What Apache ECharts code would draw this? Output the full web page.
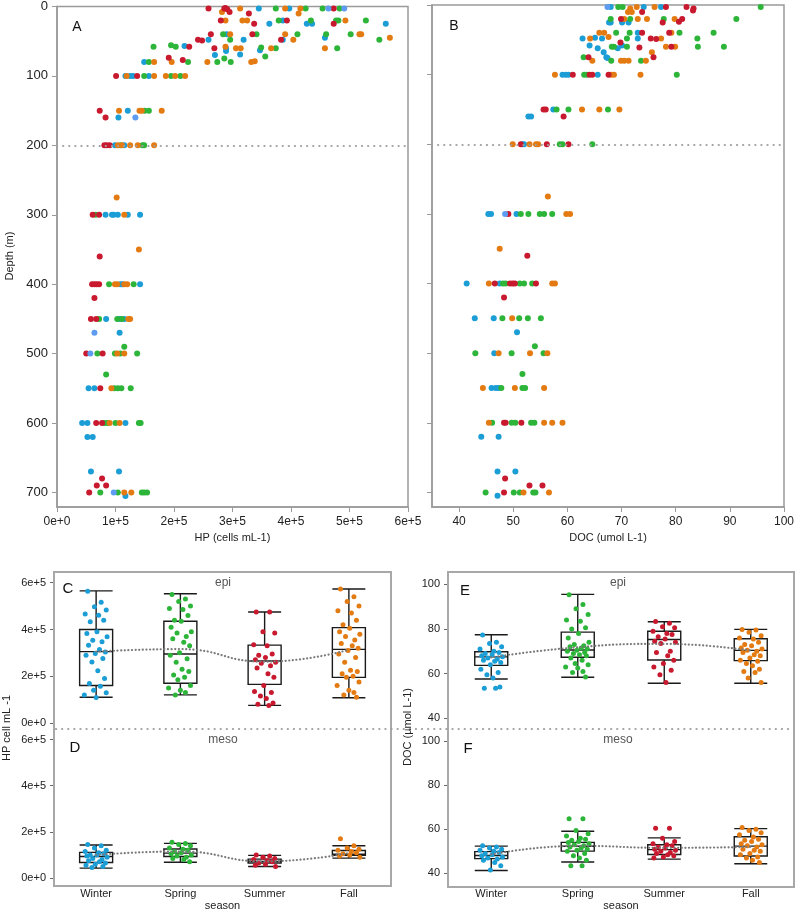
<!DOCTYPE html>
<html><head><meta charset="utf-8">
<script src="https://cdn.jsdelivr.net/npm/echarts@6/dist/echarts.min.js"></script>
<style>html,body{margin:0;padding:0;background:#fff}#c{width:797px;height:912px}</style>
</head><body><div id="c"></div>
<script>
// ---------- DATA ----------
const SEASONS = ['Winter','Spring','Summer','Fall'];
// Panel A: HP (x 1e5 cells mL-1), depth (m)
const HP_WINTER = [[3.45,3],[3.97,3],[3.86,20],[3.63,25],[4.27,25],[4.36,25],[5.62,25],[2.90,40],[4.58,45],[2.59,48],[3.19,48],[3.86,48],[2.18,57],[2.89,60],[2.89,64],[3.47,63],[2.70,70],[3.13,69],[1.49,80],[1.17,100],[1.25,100],[1.30,100],[1.57,100],[1.21,150],[1.05,160],[0.99,200],[1.15,200],[0.83,300],[0.94,300],[0.97,300],[1.04,300],[1.21,300],[1.42,300],[1.08,400],[1.12,400],[1.42,400],[0.84,450],[1.07,450],[1.15,450],[1.07,470],[0.54,550],[0.64,550],[0.43,600],[0.52,600],[1.17,600],[0.52,620],[0.61,620],[0.58,670],[1.06,670],[1.17,705]];
const HP_LIGHT = [[4.64,3],[4.91,3],[1.34,160],[0.64,470],[0.57,500],[0.97,700]];
const HP_SPRING = [[3.74,3],[4.25,3],[4.54,3],[4.83,3],[3.79,20],[4.34,20],[4.77,20],[4.81,20],[5.28,20],[2.84,40],[3.41,40],[4.11,40],[4.60,40],[5.02,40],[2.96,48],[5.51,48],[1.65,58],[1.95,56],[2.03,58],[3.49,59],[3.74,60],[4.79,60],[2.86,75],[3.56,72],[1.57,80],[2.24,80],[2.74,80],[2.97,80],[1.49,100],[1.95,100],[2.11,100],[1.50,150],[1.57,150],[1.09,200],[1.46,200],[1.49,200],[0.66,300],[0.89,400],[1.31,400],[0.72,450],[1.03,450],[1.11,450],[1.15,490],[0.69,500],[0.99,500],[1.08,500],[1.37,500],[0.84,530],[0.98,550],[1.04,550],[1.10,550],[1.26,550],[0.81,600],[0.86,600],[1.00,600],[1.40,600],[1.43,600],[0.74,700],[1.04,700],[1.45,700],[1.49,700],[1.54,700]];
const HP_SUMMER = [[2.59,3],[2.86,3],[2.88,2],[2.91,4],[4.73,3],[2.95,8],[3.28,10],[2.80,20],[3.93,20],[3.37,25],[4.73,25],[2.63,40],[3.34,40],[2.41,48],[2.48,49],[3.83,48],[2.26,58],[2.69,60],[1.91,74],[2.15,77],[1.01,100],[1.37,100],[0.73,150],[0.83,160],[0.81,200],[0.85,200],[0.90,200],[0.61,300],[0.72,300],[0.73,360],[0.60,400],[0.64,400],[0.68,400],[0.72,400],[0.64,420],[0.58,450],[0.67,450],[0.50,500],[0.78,500],[0.74,550],[0.67,600],[0.77,600],[0.77,680],[0.68,690],[0.84,690],[0.55,700]];
const HP_FALL = [[3.13,3],[3.90,3],[4.16,3],[2.82,8],[4.13,10],[2.88,20],[3.17,20],[3.25,20],[4.93,20],[2.96,40],[3.90,40],[5.17,40],[5.20,40],[5.69,45],[4.04,48],[2.88,58],[3.06,60],[3.14,60],[3.66,60],[4.58,60],[3.38,79],[1.66,80],[1.96,80],[2.57,80],[3.32,80],[1.19,100],[1.66,100],[1.86,100],[2.02,100],[2.19,100],[1.06,150],[1.41,150],[1.45,150],[1.79,150],[1.04,200],[1.11,200],[1.25,200],[1.38,200],[1.66,200],[1.02,275],[1.15,300],[1.40,350],[0.99,400],[1.03,400],[1.15,400],[1.20,400],[1.22,450],[1.25,450],[1.03,500],[1.15,500],[0.93,550],[0.90,600],[1.07,600],[1.15,700],[1.27,700]];
// Panel B: DOC (umol L-1), depth (m)
const DOC_WINTER = [[68.0,3],[74.1,3],[77.3,3],[67.7,25],[68.0,25],[70.1,25],[71.3,25],[73.0,40],[62.8,48],[65.1,47],[66.4,48],[73.0,48],[64.1,58],[65.6,62],[69.3,62],[70.1,58],[66.7,68],[67.2,75],[67.4,76],[59.1,100],[59.7,100],[60.2,100],[65.6,100],[57.4,150],[52.8,160],[53.3,160],[51.7,200],[52.0,200],[45.4,300],[45.9,300],[50.6,300],[41.4,400],[47.5,400],[42.9,450],[46.4,450],[50.7,470],[46.5,500],[46.0,550],[46.8,550],[47.3,550],[44.1,620],[47.3,620],[47.1,670],[50.4,670],[47.1,705]];
const DOC_LIGHT = [[67.4,3],[48.5,300]];
const DOC_SPRING = [[69.4,3],[70.2,3],[95.7,3],[68.0,20],[71.6,20],[77.8,20],[91.2,20],[69.0,40],[71.5,40],[80.7,40],[87.0,40],[71.0,48],[84.0,48],[68.2,60],[68.6,60],[71.0,60],[84.1,60],[88.9,60],[63.0,75],[68.1,80],[73.6,80],[63.1,100],[63.6,100],[80.2,100],[58.0,150],[60.2,150],[67.5,150],[58.6,200],[59.1,200],[64.6,200],[51.4,300],[52.8,300],[54.9,300],[55.7,300],[57.2,300],[48.1,400],[48.6,400],[51.2,400],[52.0,400],[53.5,400],[48.0,450],[51.1,450],[52.7,450],[55.1,450],[54.0,490],[43.0,500],[49.7,500],[55.6,500],[51.7,530],[47.8,550],[51.7,550],[52.2,550],[46.1,600],[49.7,600],[50.4,600],[53.3,600],[53.9,600],[44.9,700],[50.1,700],[51.2,700],[53.7,700],[54.1,700]];
const DOC_SUMMER = [[78.2,3],[82.0,3],[83.3,5],[73.8,10],[83.2,8],[69.9,20],[81.2,20],[77.6,25],[80.6,24],[73.8,40],[78.8,40],[75.4,48],[76.4,49],[69.8,54],[73.3,61],[79.2,60],[63.9,75],[75.9,75],[61.0,100],[64.1,100],[64.6,100],[67.6,100],[55.6,150],[56.0,150],[59.3,160],[51.4,200],[56.2,200],[60.2,200],[49.1,300],[52.6,360],[46.6,400],[49.4,400],[49.9,400],[50.3,400],[54.2,400],[48.3,420],[48.3,600],[48.6,600],[51.5,600],[48.5,680],[53.0,690],[55.4,690],[48.3,700]];
const DOC_FALL = [[71.6,5],[72.8,3],[76.1,3],[71.2,10],[71.9,10],[70.5,20],[73.0,20],[74.7,20],[79.8,20],[65.9,40],[66.8,40],[79.2,40],[64.2,48],[67.6,46],[77.3,48],[78.2,60],[79.9,60],[75.6,68],[64.6,80],[69.9,80],[70.5,80],[71.3,80],[74.5,80],[57.7,100],[68.1,100],[68.6,100],[73.5,100],[62.7,150],[65.9,150],[69.6,150],[49.9,200],[53.0,200],[54.2,200],[54.6,200],[56.4,275],[59.8,300],[60.5,300],[47.5,350],[45.5,400],[57.2,400],[57.7,400],[49.8,450],[47.3,500],[53.1,500],[56.3,500],[44.4,550],[50.3,550],[55.7,550],[45.5,600],[55.7,600],[57.2,600],[59.1,600],[51.9,700],[56.6,700]];
const EPI_BOUNDARY = 200;

// Box panels: [min, Q1, median, Q3, max] per season
const BOX_HP_EPI  = [[1.10,1.60,3.05,4.00,5.65],[1.20,1.70,2.95,4.35,5.53],[0.75,1.65,2.65,3.33,4.75],[1.08,1.95,3.15,4.08,5.73]];
const BOX_HP_MESO = [[0.43,0.67,0.93,1.11,1.43],[0.68,0.93,1.08,1.26,1.50],[0.50,0.65,0.72,0.82,0.98],[0.86,0.98,1.03,1.19,1.40]];
const BOX_DOC_EPI  = [[57.6,63.7,67.5,69.8,77.4],[58.4,67.3,70.6,78.6,95.5],[55.7,66.1,75.3,79.0,83.2],[55.7,65.8,70.4,75.6,79.8]];
const BOX_DOC_MESO = [[41.3,46.7,48.1,49.9,52.4],[45.2,50.1,52.3,54.1,59.1],[46.5,48.6,50.8,53.0,56.1],[44.4,47.9,52.4,56.6,60.3]];
const MEAN_HP_EPI  = [3.05,3.16,2.62,3.13];
const MEAN_HP_MESO = [1.00,1.15,0.72,1.08];
const MEAN_DOC_EPI  = [67.3,71.8,73.3,70.3];
const MEAN_DOC_MESO = [48.6,52.5,51.6,52.0];
// Jittered observations per season
const PTS_HP_EPI = [
 [5.64,5.16,4.97,4.83,4.66,4.61,4.40,4.33,3.90,3.83,3.69,3.54,3.47,3.33,3.14,3.04,2.97,2.90,2.76,2.61,2.23,1.90,1.69,1.57,1.40,1.29,1.19,1.09],
 [5.50,5.30,5.20,5.00,4.90,4.85,4.60,4.40,4.35,4.10,3.90,3.85,3.70,3.60,3.45,3.30,3.00,2.90,2.75,2.60,2.30,2.20,2.05,1.95,1.85,1.60,1.50,1.40,1.30,1.20],
 [4.75,4.75,3.90,3.85,3.35,3.30,2.95,2.90,2.80,2.70,2.60,2.55,2.45,2.35,2.10,1.95,1.60,1.35,1.30,1.15,1.05,0.85,0.80,0.75],
 [5.73,5.40,5.20,5.00,4.80,4.70,4.40,4.20,4.05,3.90,3.80,3.70,3.55,3.40,3.30,3.20,3.10,2.95,2.80,2.60,2.25,2.20,2.10,2.00,1.95,1.75,1.60,1.40,1.30,1.20,1.10]];
const PTS_HP_MESO = [
 [1.45,1.40,1.30,1.20,1.15,1.10,1.05,1.00,1.00,0.95,0.90,0.85,0.80,0.75,0.70,0.65,0.60,0.55,0.50,0.45],
 [1.55,1.50,1.45,1.40,1.30,1.25,1.20,1.15,1.10,1.05,1.00,0.95,0.90,0.85,0.80,0.70],
 [1.00,0.95,0.90,0.85,0.80,0.75,0.70,0.65,0.60,0.55,0.50],
 [1.70,1.40,1.30,1.25,1.20,1.15,1.10,1.05,1.00,0.95,0.90]];
const PTS_DOC_EPI = [
 [77.3,74,73.5,72,71,70,69.5,69,68.5,68,67.5,67,66.5,66,65.5,65,64,62,60.5,59.5,58,54,53.5,53.5],
 [95.3,91,89,86.5,84,83.5,80.5,80,78,76,74,73,72.5,72,71.5,71,70.5,70,69.5,69,68.5,68,67,66,64.5,64,63,62.5,61,60.5,58.5],
 [83.3,82.5,81,80.5,79,78,77.5,76.5,75.5,74.5,74,73.5,70,69.5,68,66,64.5,63,61.5,59.5,56],
 [79.8,79.5,78.5,77,76,75.5,74,73,72.5,71.5,71,70.5,70,69.5,68.5,68,67,66,65.5,64.5,63.5,62,61,60.5,58,56]];
const PTS_DOC_MESO = [
 [52.5,52,51.5,51,50.5,50,49.5,49,48.5,48,47.5,47,46.5,46,45,43.5,41.5],
 [64.8,64.8,59.5,58,57,56,55.5,55,54.5,54,53.5,53,52.5,52,51.5,51,50.5,50,49,48,47,46,43.5,43.5],
 [60.5,60.5,56,54.5,53.5,53,52.5,52,51.5,51,50.5,50,49.5,49,48.5,48,47.5,47],
 [60.8,60,59.5,58.5,57.5,56.5,55.5,55,54.5,53.5,53,52.5,52,51,50.5,50,49,48.5,47.5,47,46,45]];
// horizontal jitter (category units), reused by point index
const JITTER = [-0.10,0.06,-0.02,0.12,-0.13,0.03,0.09,-0.07,0.01,-0.11,0.13,-0.04,0.07,-0.09,0.04,0.11,-0.01,-0.12,0.08,-0.05,0.02,0.10,-0.08,0.05,-0.03,0.12,-0.14,0.00,0.06,-0.06,0.09,-0.10,0.03];
const HP_TICKS = [0,1,2,3,4,5,6];
const DOC_TICKS = [40,50,60,70,80,90,100];
const DEPTH_TICKS = [0,100,200,300,400,500,600,700];
const HPBOX_TICKS = [0,2,4,6];
const DOCBOX_TICKS = [40,60,80,100];

// ---------- STYLE ----------
const FONT = 'Liberation Sans, Arial, sans-serif';
const COL = {Winter:'#1b9dd6', Spring:'#2db53a', Summer:'#c8192f', Fall:'#e37b12', Light:'#5d9cf0'};
const AX = '#9a9a9a';
const e5 = v => v === 0 ? '0e+0' : v + 'e+5';

const grids = [
  {left:57, top:5, width:351, height:502},
  {left:432, top:5, width:355, height:502},
  {left:54, top:572, width:337, height:157},
  {left:54, top:729, width:337, height:157},
  {left:448, top:572, width:346, height:157},
  {left:448, top:729, width:346, height:157}
].map((g,i) => Object.assign({show: i < 2, borderColor: AX, borderWidth: 1.5, backgroundColor:'transparent'}, g));

function topX(gi, min, max, ticks, fmt, name) {
  return {type:'value', gridIndex:gi, min, max, position:'bottom',
    axisLine:{show:true, onZero:false, lineStyle:{color:AX, width:1.5}},
    axisTick:{show:true, length:5, lineStyle:{color:AX}, customValues:ticks},
    axisLabel:{fontSize:12, color:'#222', fontFamily:FONT, margin:9, formatter:fmt, customValues:ticks},
    splitLine:{show:false}, name, nameLocation:'middle', nameGap:24,
    nameTextStyle:{fontSize:11, color:'#222', fontFamily:FONT}};
}
function depthY(gi, labels) {
  return {type:'value', gridIndex:gi, inverse:true, min:0, max:721,
    axisLine:{show:true, onZero:false, lineStyle:{color:AX, width:1.5}},
    axisTick:{show:true, length:5, lineStyle:{color:AX}, customValues:DEPTH_TICKS},
    axisLabel:{show:labels, fontSize:13, color:'#222', fontFamily:FONT, margin:9, customValues:DEPTH_TICKS},
    splitLine:{show:false}};
}
function catX(gi, labels) {
  return {type:'category', gridIndex:gi, data:SEASONS, boundaryGap:true,
    axisLine:{show:false, onZero:false}, axisTick:{show:false},
    axisLabel:{show:labels, fontSize:11, color:'#222', fontFamily:FONT, margin:4},
    name: labels ? 'season' : '', nameLocation:'middle', nameGap:16,
    nameTextStyle:{fontSize:11, color:'#222', fontFamily:FONT}};
}
function valX(gi) {
  return {type:'value', gridIndex:gi, min:-0.5, max:3.5, show:false, axisLine:{onZero:false}};
}
function boxY(gi, min, max, ticks, fmt) {
  return {type:'value', gridIndex:gi, min, max, position:'left',
    axisLine:{show:false, onZero:false}, splitLine:{show:false},
    axisTick:{show:true, length:4, lineStyle:{color:'#666'}, customValues:ticks},
    axisLabel:{fontSize:11, color:'#222', fontFamily:FONT, margin:8, formatter:fmt, customValues:ticks}};
}

const xAxis = [
  topX(0, 0, 6, HP_TICKS, e5, 'HP (cells mL-1)'),
  topX(1, 35, 100, DOC_TICKS, null, 'DOC (umol L-1)'),
  catX(2,false), valX(2), catX(3,true), valX(3),
  catX(4,false), valX(4), catX(5,true), valX(5)
];
const yAxis = [
  depthY(0,true), depthY(1,false),
  boxY(2,-0.26,6.46,HPBOX_TICKS,e5), boxY(3,-0.26,6.46,HPBOX_TICKS,e5),
  boxY(4,35.2,105.5,DOCBOX_TICKS,null), boxY(5,35.2,105.5,DOCBOX_TICKS,null)
];

const series = [];
function sc(xi, yi, data, color, size) {
  series.push({type:'scatter', xAxisIndex:xi, yAxisIndex:yi, data, symbolSize:size,
    itemStyle:{color, opacity:1}, z:3, silent:true});
}
const sepLine = {silent:true, symbol:'none', label:{show:false},
  lineStyle:{type:[0.1,6], color:'#a0a0a0', width:2.2, cap:'round'}, data:[{yAxis:EPI_BOUNDARY}]};

// Panel A
sc(0,0,HP_WINTER,COL.Winter,6); sc(0,0,HP_SPRING,COL.Spring,6);
sc(0,0,HP_FALL,COL.Fall,6); sc(0,0,HP_SUMMER,COL.Summer,6); sc(0,0,HP_LIGHT,COL.Light,6);
series[0].markLine = sepLine;
// Panel B
const bStart = series.length;
sc(1,1,DOC_WINTER,COL.Winter,6); sc(1,1,DOC_SPRING,COL.Spring,6);
sc(1,1,DOC_FALL,COL.Fall,6); sc(1,1,DOC_SUMMER,COL.Summer,6); sc(1,1,DOC_LIGHT,COL.Light,6);
series[bStart].markLine = sepLine;

// Box panels
function boxPanel(catXi, valXi, yi, box, pts, means) {
  series.push({type:'boxplot', xAxisIndex:catXi, yAxisIndex:yi, data:box, boxWidth:[33,33],
    itemStyle:{color:'rgba(255,255,255,0)', borderColor:'#1a1a1a', borderWidth:1.4}, z:2, silent:true});
  pts.forEach((arr, si) => {
    const col = COL[SEASONS[si]];
    sc(valXi, yi, arr.map((v,k) => [si + JITTER[k % JITTER.length], v]), col, 5);
  });
  series.push({type:'line', xAxisIndex:valXi, yAxisIndex:yi, data:means.map((m,i)=>[i,m]),
    smooth:0.5, symbol:'none', z:4, silent:true,
    lineStyle:{type:[0.1,3.5], color:'#7a7a7a', width:2.2, cap:'round'}});
}
boxPanel(2,3,2,BOX_HP_EPI,PTS_HP_EPI,MEAN_HP_EPI);
boxPanel(4,5,3,BOX_HP_MESO,PTS_HP_MESO,MEAN_HP_MESO);
boxPanel(6,7,4,BOX_DOC_EPI,PTS_DOC_EPI,MEAN_DOC_EPI);
boxPanel(8,9,5,BOX_DOC_MESO,PTS_DOC_MESO,MEAN_DOC_MESO);

function txt(x, y, text, size, color, rot) {
  return {type:'text', x, y, rotation: rot || 0, silent:true, z:10,
    style:{text, fontSize:size, fill:color || '#111', fontFamily:FONT, align:'center', verticalAlign:'middle'}};
}
const graphic = [
  {type:'rect', shape:{x:54, y:572, width:337, height:314}, style:{fill:'none', stroke:'#a8a8a8', lineWidth:2}, silent:true, z:1},
  {type:'rect', shape:{x:448, y:572, width:346, height:315}, style:{fill:'none', stroke:'#a8a8a8', lineWidth:2}, silent:true, z:1},
  {type:'line', shape:{x1:56, y1:729, x2:794, y2:729}, style:{stroke:'#a0a0a0', lineWidth:2.2, lineDash:[0.1,6], lineCap:'round'}, silent:true, z:1},
  txt(77, 27, 'A', 14), txt(454, 26, 'B', 14),
  txt(68, 589, 'C', 15), txt(75, 748, 'D', 15),
  txt(465, 591, 'E', 15), txt(468, 749, 'F', 15),
  txt(223, 583, 'epi', 12, '#555'), txt(223, 740, 'meso', 12, '#555'),
  txt(618, 583, 'epi', 12, '#555'), txt(618, 740, 'meso', 12, '#555'),
  txt(10, 256, 'Depth (m)', 11, '#222', Math.PI/2),
  txt(7, 728, 'HP cell mL -1', 11, '#222', Math.PI/2),
  txt(408, 727, 'DOC (µmol L-1)', 11, '#222', Math.PI/2)
];

const chart = echarts.init(document.getElementById('c'), null, {renderer:'canvas'});
chart.setOption({animation:false, backgroundColor:'#fff', grid:grids, xAxis, yAxis, series, graphic});
</script></body></html>
